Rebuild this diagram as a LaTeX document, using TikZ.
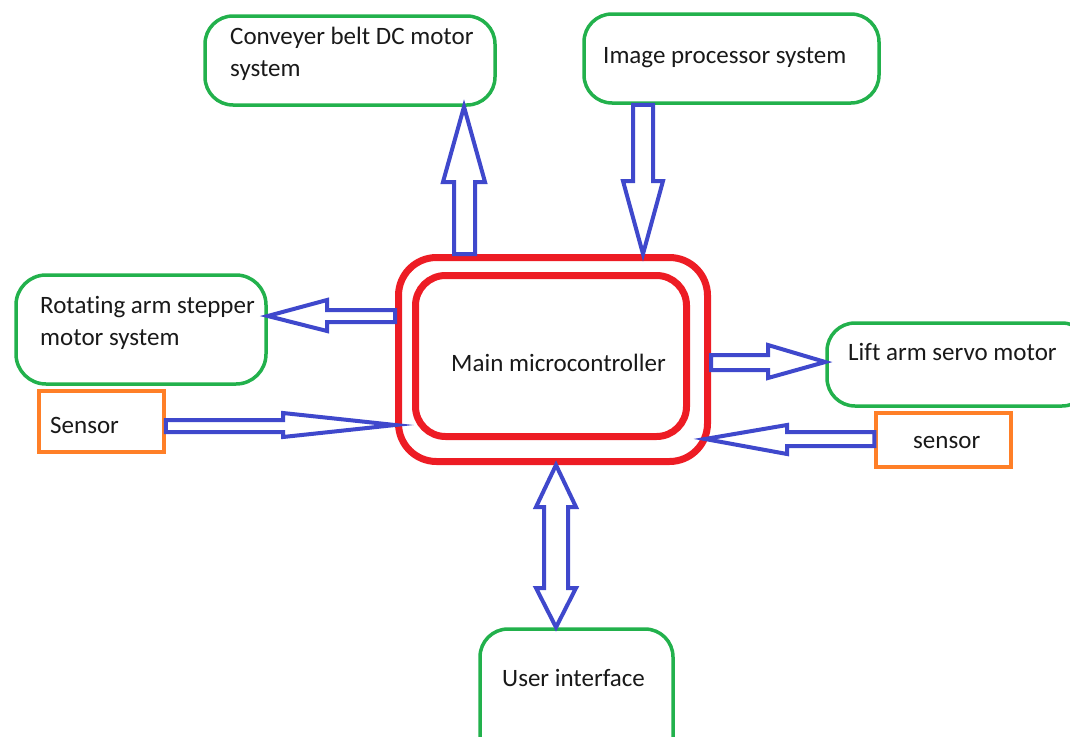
\documentclass[tikz,border=0pt]{standalone}
\usepackage{fontspec}
\setmainfont{Carlito}[RawFeature={-liga;-clig;-dlig;-calt}]
\definecolor{pgreen}{HTML}{22B14C}
\definecolor{pred}{HTML}{ED1C24}
\definecolor{porange}{HTML}{FF7F27}
\definecolor{pblue}{HTML}{3F48CC}
\tikzset{
  gbox/.style={draw=pgreen, line width=3.5pt, rounded corners=28pt, inner sep=0pt},
  obox/.style={draw=porange, line width=3.5pt, inner sep=0pt},
  rbox/.style={draw=pred, line width=7pt, inner sep=0pt},
  txt/.style={anchor=base west, inner sep=0pt, font=\fontsize{25}{32}\selectfont, text=black!90},
  blk/.style={draw=pblue, line width=4pt, fill=white, line join=miter},
}
\begin{document}
\begin{tikzpicture}[x=1pt, y=-1pt]
\useasboundingbox (0,0) rectangle (1070,736);

% main controller, double red frame
\node[rbox, rounded corners=38pt, minimum width=309pt, minimum height=204pt] (main) at (553,359.5) {};
\node[rbox, rounded corners=30pt, minimum width=271pt, minimum height=161pt] (core) at (551,356) {};
\node[txt] (maint) at (451,371) {Main microcontroller};

% green subsystem boxes
\node[gbox, minimum width=290pt, minimum height=89pt] (conv) at (350,60.5) {};
\node[txt] (conva) at (230,44) {Conveyer belt DC motor};
\node[txt] (convb) at (230,76) {system};

\node[gbox, minimum width=295pt, minimum height=89pt] (img) at (731.5,58.5) {};
\node[txt] (imgt) at (603,63) {Image processor system};

\node[gbox, rounded corners=30pt, minimum width=250pt, minimum height=109pt] (rot) at (141,329.5) {};
\node[txt] (rota) at (40,313) {Rotating arm stepper};
\node[txt] (rotb) at (40,345) {motor system};

\node[gbox, minimum width=263pt, minimum height=83pt] (lift) at (958.5,364.5) {};
\node[txt] (liftt) at (848,360) {Lift arm servo motor};

\node[gbox, minimum width=193pt, minimum height=161pt] (ui) at (576.5,709.5) {};
\node[txt] (uit) at (502,686) {User interface};

% orange sensor boxes
\node[obox, minimum width=125pt, minimum height=61pt] (sensl) at (101.5,421.5) {};
\node[txt] (sensla) at (50,433) {Sensor};
\node[obox, minimum width=135pt, minimum height=54pt] (sensr) at (943.5,440) {};
\node[txt] (sensra) at (913,448) {sensor};

% block arrows
% main -> conveyer
\draw[blk] (conv.south -| 464,0) -- (485,182) -- (475,182) -- (main.north -| 475,0)
  -- (main.north -| 454,0) -- (454,182) -- (443,182) -- cycle;
% image processor -> main
\draw[blk] (img.south -| 633,0) -- (img.south -| 653,0) -- (653,181) -- (663,181)
  -- (main.north -| 643,0) -- (623,181) -- (633,181) -- cycle;
% main -> rotating arm
\draw[blk] (rot.east |- 0,316) -- (327,300) -- (327,310) -- (main.west |- 0,310)
  -- (main.west |- 0,322) -- (327,322) -- (327,331) -- cycle;
% left sensor -> main
\draw[blk] (sensl.east |- 0,420) -- (283,420) -- (283,413) -- (main.west |- 0,425)
  -- (283,437) -- (283,432) -- (sensl.east |- 0,432) -- cycle;
% main -> lift arm
\draw[blk] (main.east |- 0,355) -- (768,355) -- (768,345) -- (lift.west |- 0,362)
  -- (768,378) -- (768,370) -- (main.east |- 0,370) -- cycle;
% right sensor -> main
\draw[blk] (sensr.west |- 0,432) -- (787,432) -- (787,425) -- (705,439)
  -- (787,454) -- (787,446) -- (sensr.west |- 0,446) -- cycle;
% main <-> user interface
\draw[blk] (main.south -| 556,0) -- (576,507) -- (568,507) -- (568,588) -- (576,588)
  -- (ui.north -| 556,0) -- (536,588) -- (544,588) -- (544,507) -- (536,507) -- cycle;
\end{tikzpicture}
\end{document}
